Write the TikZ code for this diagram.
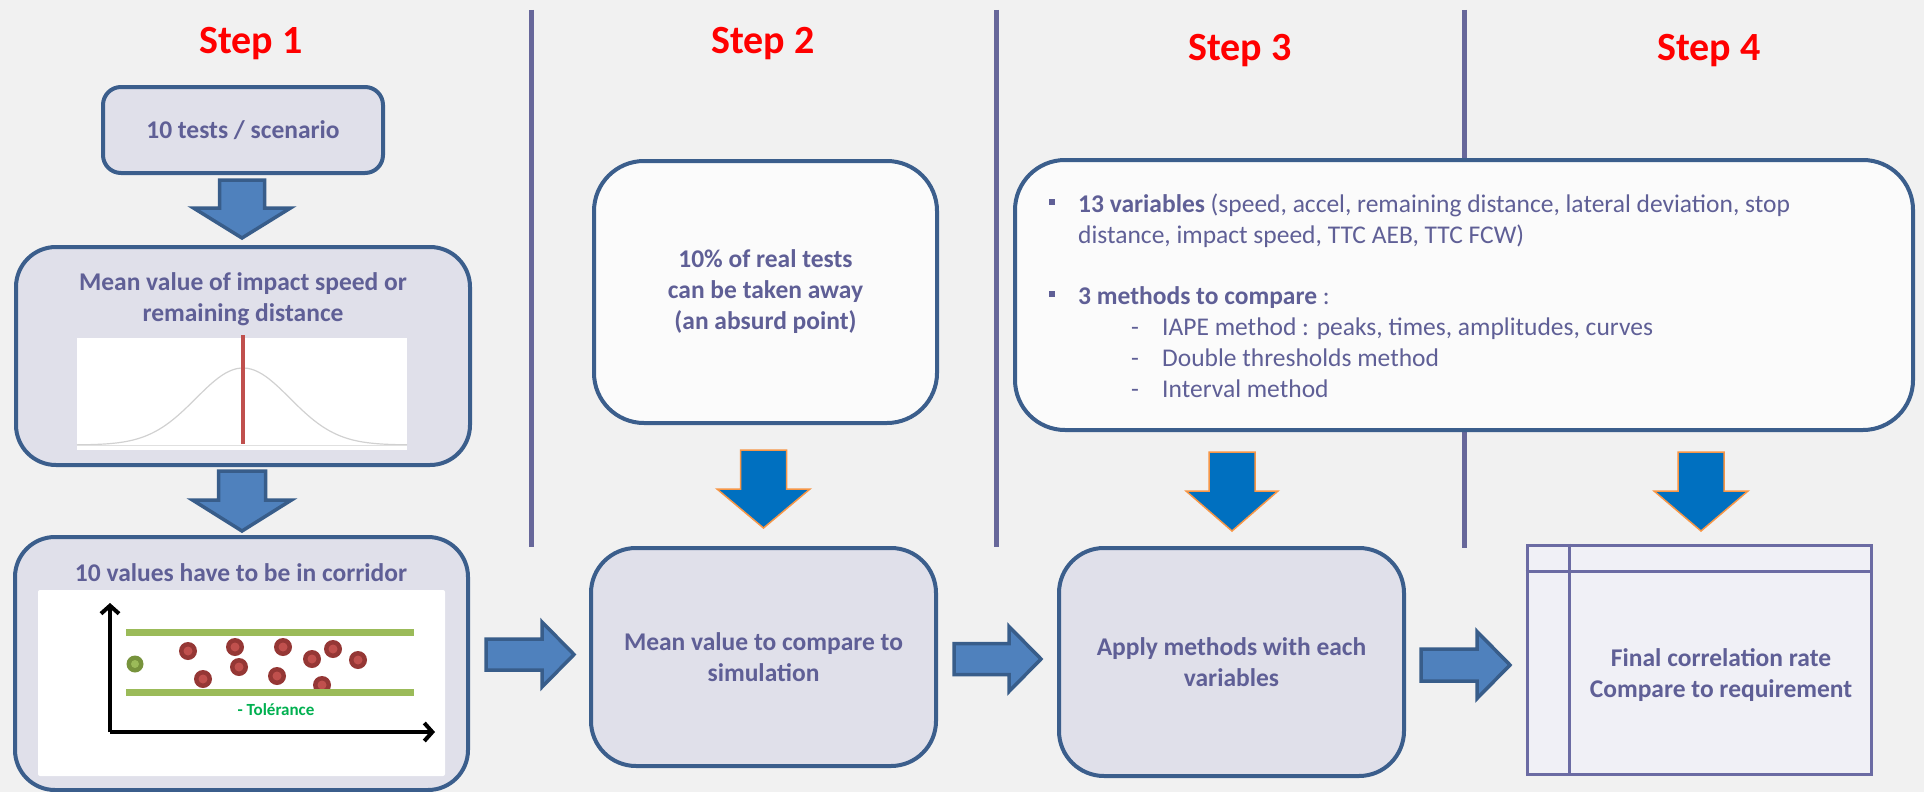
\documentclass[tikz,border=0pt]{standalone}
\usepackage{fontspec}
\setmainfont{Carlito}
\usetikzlibrary{arrows.meta}
\definecolor{bg}{HTML}{F1F1F1}
\definecolor{boxb}{HTML}{3B5E8C}
\definecolor{boxf}{HTML}{E0E0EA}
\definecolor{boxw}{HTML}{FBFBFB}
\definecolor{txt}{HTML}{5F5F96}
\definecolor{vline}{HTML}{67679A}
\definecolor{arrf}{HTML}{4F81BD}
\definecolor{arrb}{HTML}{385D8A}
\definecolor{oarrf}{HTML}{0070C0}
\definecolor{oarrb}{HTML}{F79646}
\definecolor{grn}{HTML}{9BBB59}
\definecolor{grntxt}{HTML}{00B050}
\definecolor{dotout}{HTML}{953735}
\definecolor{dotin}{HTML}{C0504D}
\definecolor{gdotout}{HTML}{77933C}
\definecolor{tabl}{HTML}{6B6BA3}
\definecolor{tabf}{HTML}{F0F0F6}
\definecolor{steptxt}{HTML}{FF0000}
\newcommand{\downblk}[7]{\draw[#7] ({#1-#5},#2) -- ({#1+#5},#2) -- ({#1+#5},#3) -- ({#1+#6},#3) -- (#1,#4) -- ({#1-#6},#3) -- ({#1-#5},#3) -- cycle;}
\newcommand{\rightblk}[7]{\draw[#7] (#2,{#1-#5}) -- (#3,{#1-#5}) -- (#3,{#1-#6}) -- (#4,#1) -- (#3,{#1+#6}) -- (#3,{#1+#5}) -- (#2,{#1+#5}) -- cycle;}
\begin{document}
\begin{tikzpicture}[x=1pt,y=-1pt,
  box/.style={draw=boxb, line width=4pt, fill=boxf, rounded corners=#1, text=txt, align=center, inner sep=0pt,
    font=\fontsize{25.5}{31}\selectfont\bfseries},
  wbox/.style={box=#1, fill=boxw},
  btxt/.style={text=txt, align=center, inner sep=0pt, font=\fontsize{25.5}{31}\selectfont\bfseries},
  stxt/.style={text=txt, inner sep=0pt, anchor=base west, font=\fontsize{25.5}{31}\selectfont},
  steplbl/.style={text=steptxt, inner sep=0pt, anchor=base, font=\fontsize{40}{48}\selectfont\bfseries},
  vsep/.style={draw=vline, line width=5pt},
  barr/.style={fill=arrf, draw=arrb, line width=3.5pt, line join=miter},
  oarr/.style={fill=oarrf, draw=oarrb, line width=1.5pt, line join=miter},
  rdot/.style={fill=dotout},
  rdotin/.style={fill=dotin},
  tabline/.style={draw=tabl, line width=3pt},
  axis/.style={draw=black, line width=4pt, -{Straight Barb[length=8pt,width=18pt,line width=4pt]}},
]
\useasboundingbox (0,0) rectangle (1924,792);
\fill[bg] (0,0) rectangle (1924,792);

% separators
\draw[vsep] (531,10) -- (531,547);
\draw[vsep] (996,10) -- (996,547);
\draw[vsep] (1464,10) -- (1464,548);

% step labels
\node[steplbl] (s1) at (251,54) {Step 1};
\node[steplbl] (s2) at (763,53) {Step 2};
\node[steplbl] (s3) at (1240,60) {Step 3};
\node[steplbl] (s4) at (1709,60) {Step 4};

% ---------- Step 1 ----------
\node[box=18, minimum width=280, minimum height=86] (b1) at (243,130) {10 tests / scenario};
\downblk{242}{180}{208}{238}{22.5}{48.5}{barr}
\node[box=40, minimum width=454, minimum height=218] (b2) at (243,356) {};
\node[btxt] (b2t) at (243,299) {Mean value of impact speed or\\remaining distance};
\fill[white] (77,338) rectangle (407,450);
\draw[black!18, line width=1.2pt] plot[domain=77:407, samples=90] (\x, {445-77*exp(-0.5*((\x-243)/47)^2)});
\draw[black!12, line width=1pt] (77,445) -- (407,445);
\draw[dotin, line width=4pt] (243,335) -- (243,444);

\downblk{242}{471}{500}{531}{23.5}{49.5}{barr}
\node[box=40, minimum width=453, minimum height=253] (b3) at (241.5,663.5) {};
\node[btxt] (b3t) at (241,573) {10 values have to be in corridor};
\fill[white, rounded corners=2pt] (38,590) rectangle (445,776);
\coordinate (ax0) at (110,732);
\coordinate (axy) at (110,603);
\coordinate (axx) at (435,732);
\draw[axis] (ax0) -- (axy);
\draw[axis] (ax0) -- (axx);
\fill[gdotout] (135,664) circle (8.5);
\fill[grn] (135,664) circle (4);
\foreach \px/\py in {188/651,235/647,283/647,333/649,312/659,358/660,239/667,203/679,277/676,322/685}{
  \fill[rdot] (\px,\py) circle (9);
  \fill[rdotin] (\px,\py) circle (4.5);
}
\draw[grn, line width=7pt] (126,632) -- (414,632);
\draw[grn, line width=7pt] (126,692) -- (414,692);
\node[text=grntxt, inner sep=0pt, font=\fontsize{17}{20}\selectfont\bfseries] (tol) at (276,710) {- Tolérance};

% ---------- Step 2 ----------
\node[wbox=50, minimum width=343, minimum height=262] (c1) at (765.5,292) {10\% of real tests\\can be taken away\\(an absurd point)};
\downblk{763.5}{450}{489}{528}{23}{46.5}{oarr}
\node[box=45, minimum width=345, minimum height=218] (c2) at (763.5,657) {Mean value to compare to\\simulation};
\rightblk{654.5}{486}{542}{574}{15.5}{32.5}{barr}

% ---------- Step 3 ----------
\node[wbox=50, minimum width=898, minimum height=270] (d1) at (1464,295) {};
\fill[txt] (1049,199) rectangle (1055,205);
\fill[txt] (1049,291) rectangle (1055,297);
\node[stxt] (l1) at (1078,212) {\textbf{13 variables} (speed, accel, remaining distance, lateral deviation, stop};
\node[stxt] (l2) at (1078,243) {distance, impact speed, TTC AEB, TTC FCW)};
\node[stxt] (l3) at (1078,304) {\textbf{3 methods to compare} :};
\node[stxt] (m1d) at (1131,335) {-};
\node[stxt] (m1) at (1162,335) {IAPE method : peaks, times, amplitudes, curves};
\node[stxt] (m2d) at (1131,366) {-};
\node[stxt] (m2) at (1162,366) {Double thresholds method};
\node[stxt] (m3d) at (1131,397) {-};
\node[stxt] (m3) at (1162,397) {Interval method};
\downblk{1232}{452}{491}{531}{23}{46}{oarr}
\node[box=45, minimum width=345, minimum height=228] (d2) at (1231.5,662) {Apply methods with each\\variables};
\rightblk{659}{954}{1009}{1041}{15.5}{32.5}{barr}

% ---------- Step 4 ----------
\downblk{1701}{452}{491}{531}{23}{47}{oarr}
\node[draw=tabl, line width=3pt, fill=tabf, minimum width=344, minimum height=229, inner sep=0pt] (tab) at (1699,659.5) {};
\draw[tabline] ([yshift=-28pt]tab.north west) -- ([yshift=-28pt]tab.north east);
\draw[tabline] ([xshift=44pt]tab.north west) -- ([xshift=44pt]tab.south west);
\node[btxt] (tabt) at (1721,675) {Final correlation rate\\Compare to requirement};
\rightblk{665}{1421}{1477}{1510}{16}{33.5}{barr}
\end{tikzpicture}
\end{document}
